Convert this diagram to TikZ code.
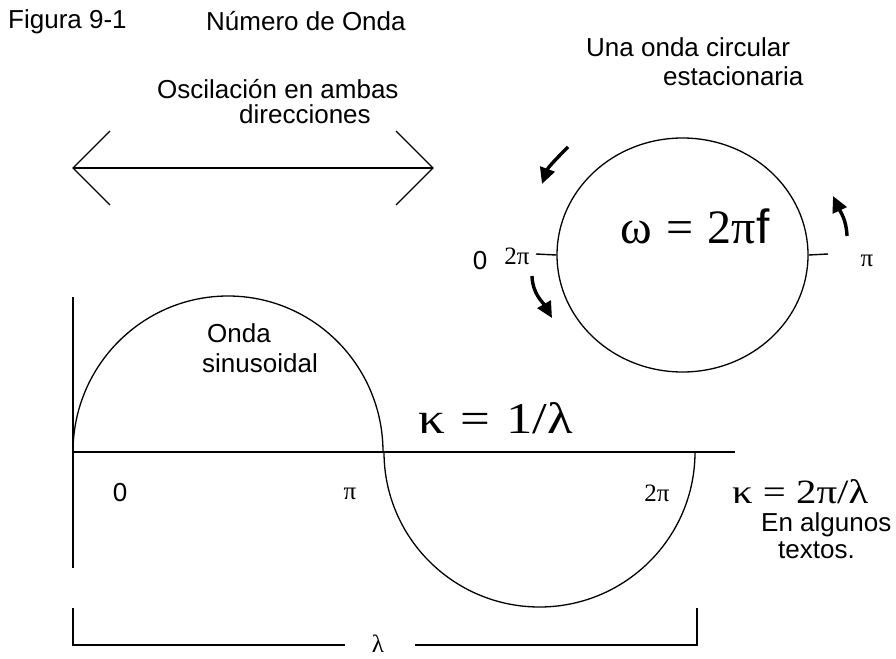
\documentclass[tikz,border=0pt]{standalone}
\usepackage{fontspec}
\usepackage{graphicx}
\setmainfont{Liberation Sans}
\newfontfamily\tms{Liberation Serif}
\usetikzlibrary{arrows.meta,shapes.geometric}
\begin{document}
\begin{tikzpicture}[x=1pt,y=1pt,
  lbl/.style={inner sep=0pt, font=\fontsize{26}{30}\selectfont},
  tlbl/.style={inner sep=0pt, font=\tms\fontsize{25}{29}\selectfont},
  ln/.style={line width=1.4pt},
  curarrow/.style={line width=3.4pt, -{Triangle[length=16pt,width=15pt]}}]
\useasboundingbox (0,0) rectangle (896,-658);
% titles
\node[lbl, anchor=base west] (fig) at (8,-29) {Figura 9-1};
\node[lbl, anchor=base west] (title) at (206,-31) {Número de Onda};
\node[lbl, anchor=base west] (osc1) at (157,-99) {Oscilación en ambas};
\node[lbl, anchor=base west] (osc2) at (239,-124) {direcciones};
\node[lbl, anchor=base west] (una1) at (586,-57) {Una onda circular};
\node[lbl, anchor=base west] (una2) at (663,-86) {estacionaria};
% double arrow
\coordinate (La) at (73,-168);
\coordinate (Ra) at (433,-168);
\draw[ln] (La) -- (Ra);
\draw[ln] (110,-131) -- (La) -- (110,-205);
\draw[ln] (396,-131) -- (Ra) -- (396,-205);
% circle
\node[draw, line width=1.3pt, ellipse, minimum width=251pt, minimum height=234pt, inner sep=0pt] (circ) at (682.5,-255) {};
\coordinate (tl) at (536,-254);
\coordinate (tr) at (828,-254);
\draw[ln] (tl) -- (circ.west);
\draw[ln] (circ.east) -- (tr);
\node[lbl, anchor=base] (c0) at (480,-269) {0};
\node[tlbl, anchor=base] (c2pi) at (517,-264) {2π};
\node[tlbl, anchor=base] (cpi) at (867,-266) {π};
\node[inner sep=0pt, anchor=base, font=\tms\fontsize{48}{52}\selectfont] (omega) at (695,-243) {ω\hspace{0.3em}=\hspace{0.3em}2π{\fontspec{Liberation Sans}f}};
% curved arrows
\coordinate (a1s) at (568,-147); \coordinate (a1e) at (542,-184);
\coordinate (a2s) at (847,-236); \coordinate (a2e) at (833,-196);
\coordinate (a3s) at (532,-276); \coordinate (a3e) at (552,-318);
\draw[curarrow] (a1s) to[out=225,in=70] (a1e);
\draw[curarrow] (a2s) to[out=92,in=-65] (a2e);
\draw[curarrow] (a3s) to[out=-88,in=120] (a3e);
% axes
\coordinate (O) at (73,-452);
\draw[ln] (73,-297) -- (73,-568);
\draw[ln] (O) -- (735,-452);
% wave
\draw[line width=1.3pt] (O) arc[start angle=180, end angle=0, x radius=155, y radius=156];
\draw[line width=1.3pt] (384,-452) arc[start angle=180, end angle=360, x radius=155.5, y radius=155];
\node[lbl, anchor=base west] (onda1) at (207,-342) {Onda};
\node[lbl, anchor=base west] (onda2) at (202,-372) {sinusoidal};
\node[lbl, anchor=base] (ax0) at (120,-501) {0};
\node[tlbl, anchor=base] (axpi) at (350,-499) {π};
\node[tlbl, anchor=base] (ax2pi) at (657,-501) {2π};
\node[inner sep=0pt, anchor=base west, font=\tms\fontsize{44}{48}\selectfont] (k1) at (418,-433) {\scalebox{1.2}[1]{κ\hspace{0.3em}=\hspace{0.3em}1/λ}};
\node[inner sep=0pt, anchor=base west, font=\tms\fontsize{34}{38}\selectfont] (k2) at (732,-503) {\scalebox{1.2}[1]{κ\hspace{0.25em}=\hspace{0.25em}2π/λ}};
\node[lbl, anchor=base west] (en1) at (761,-531) {En algunos};
\node[lbl, anchor=base west] (en2) at (778,-558) {textos.};
% bracket
\draw[ln] (73,-608) -- (73,-645) -- (345,-645);
\draw[ln] (415,-645) -- (697,-645) -- (697,-608);
\node[tlbl, anchor=base] (lam) at (378,-652) {λ};
\end{tikzpicture}
\end{document}
